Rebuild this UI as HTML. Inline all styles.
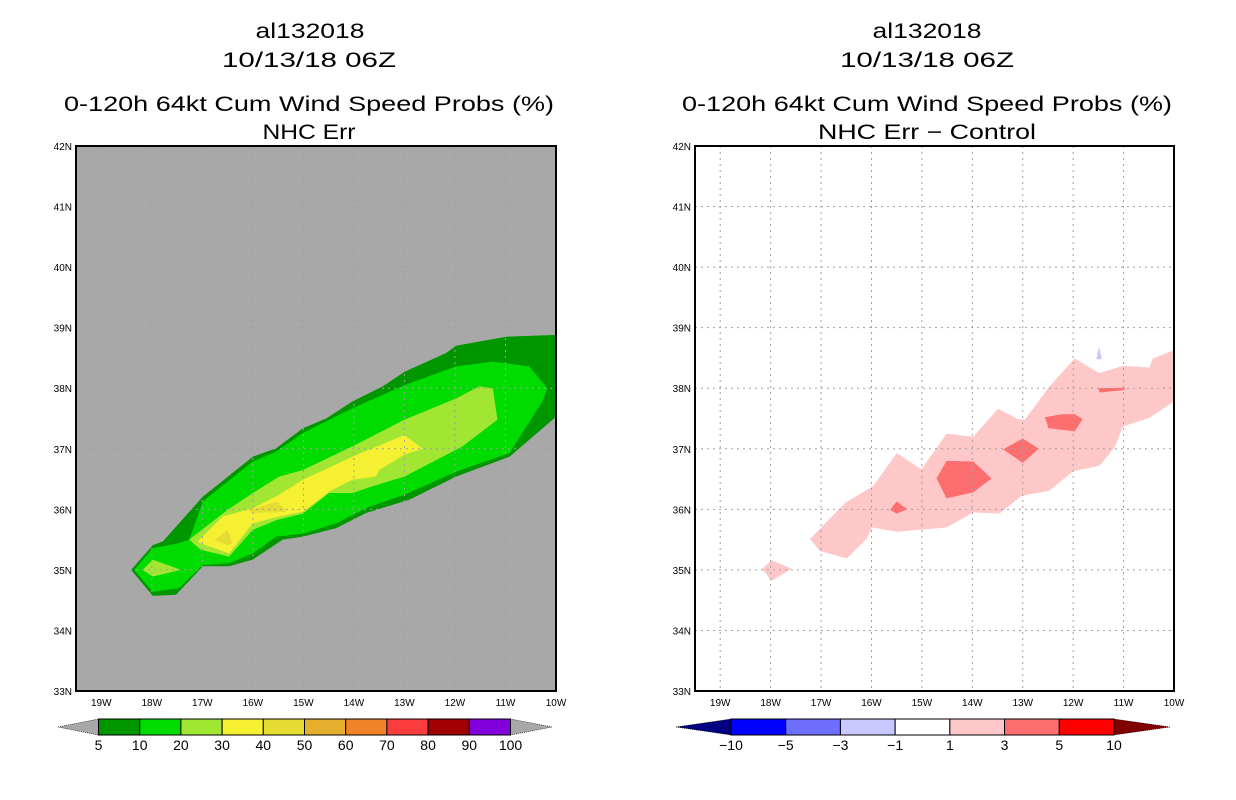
<!DOCTYPE html>
<html><head><meta charset="utf-8"><style>
body{margin:0;background:#fff;width:1236px;height:800px;overflow:hidden}
svg{display:block}
text{font-family:"Liberation Sans",sans-serif}
</style></head><body>
<svg id="s" width="1236" height="800">
<g font-size="21" text-anchor="middle" fill="#000" lengthAdjust="spacingAndGlyphs">
<text x="310" y="38" textLength="109" lengthAdjust="spacingAndGlyphs">al132018</text><text x="309" y="67" textLength="174" lengthAdjust="spacingAndGlyphs">10/13/18 06Z</text>
<text x="309" y="111" textLength="490" lengthAdjust="spacingAndGlyphs">0-120h 64kt Cum Wind Speed Probs (%)</text><text x="309" y="139" textLength="93" lengthAdjust="spacingAndGlyphs">NHC Err</text></g>
<g font-size="21" text-anchor="middle" fill="#000">
<text x="927" y="38" textLength="109" lengthAdjust="spacingAndGlyphs">al132018</text><text x="927" y="67" textLength="174" lengthAdjust="spacingAndGlyphs">10/13/18 06Z</text>
<text x="927" y="111" textLength="490" lengthAdjust="spacingAndGlyphs">0-120h 64kt Cum Wind Speed Probs (%)</text><text x="927" y="139" textLength="218" lengthAdjust="spacingAndGlyphs">NHC Err − Control</text></g>
<g id="L"></g>
<g id="R"></g>
<g id="CB"></g>
</svg>
<script>
const NS="http://www.w3.org/2000/svg";
const lonTicks=[-19,-18,-17,-16,-15,-14,-13,-12,-11,-10];
const latTicks=[33,34,35,36,37,38,39,40,41,42];
// left panel contours (lon,lat)
const probColors=["#009600","#00dc00","#a0e632","#f5f032","#e6dc32"];
const probDark=[[-18.41,35.0],[-17.98,35.41],[-17.78,35.47],[-16.99,36.21],[-16.0,36.87],[-15.54,37.01],[-15.01,37.34],[-14.55,37.5],[-14.03,37.78],[-13.43,38.03],[-13.0,38.27],[-12.18,38.58],[-11.98,38.7],[-10.99,38.85],[-10,38.88],[-10,37.53],[-10.92,36.87],[-11.98,36.54],[-12.9,36.16],[-13.76,35.94],[-14.35,35.69],[-15.01,35.55],[-15.41,35.5],[-16.0,35.17],[-16.47,35.06],[-16.99,35.06],[-17.52,34.59],[-17.98,34.57]];
const probGreen=[[-18.35,35.0],[-17.98,35.36],[-17.52,35.43],[-17.26,35.5],[-16.99,36.13],[-16.0,36.79],[-15.54,36.95],[-15.01,37.26],[-14.03,37.67],[-13.0,38.05],[-11.98,38.36],[-11.25,38.44],[-10.53,38.36],[-10.17,38.0],[-10.27,37.78],[-10.92,36.93],[-11.98,36.62],[-13.0,36.24],[-13.76,36.02],[-14.35,35.77],[-15.01,35.6],[-15.54,35.55],[-16.0,35.27],[-16.47,35.11],[-16.99,35.08],[-17.46,34.70],[-17.98,34.64]];
const probLight=[[-17.26,35.5],[-16.5,35.99],[-16.0,36.27],[-15.48,36.54],[-15.01,36.65],[-14.03,37.04],[-13.0,37.48],[-11.98,37.83],[-11.52,38.03],[-11.25,38.0],[-11.16,37.48],[-11.85,37.04],[-13.0,36.54],[-13.56,36.40],[-14.03,36.27],[-14.49,36.27],[-15.01,35.93],[-15.54,35.82],[-16.0,35.66],[-16.47,35.22],[-17.03,35.33]];
const probLight2=[[-18.18,35.0],[-17.98,35.17],[-17.42,35.0],[-17.98,34.89]];
const probYellow=[[-17.09,35.47],[-16.6,35.88],[-16.0,36.02],[-15.48,36.24],[-15.01,36.49],[-14.03,36.87],[-13.0,37.23],[-12.64,37.0],[-13.0,36.90],[-13.5,36.65],[-13.56,36.54],[-14.03,36.49],[-14.49,36.29],[-15.01,35.96],[-15.54,35.87],[-16.0,35.77],[-16.47,35.27],[-17.03,35.44]];
const probY40a=[[-16.76,35.49],[-16.5,35.66],[-16.4,35.44],[-16.5,35.41]];
const probY40b=[[-16.07,35.99],[-15.51,36.13],[-15.34,35.96],[-16.0,35.94]];
// right panel difference contours
const diffPink=[[-17.22,35.51],[-16.52,36.11],[-15.96,36.39],[-15.5,36.93],[-15.01,36.66],[-14.51,37.25],[-13.98,37.2],[-13.49,37.66],[-13.09,37.49],[-12.96,37.48],[-12.47,38.03],[-11.97,38.49],[-11.48,38.25],[-11.01,38.37],[-10.49,38.34],[-10.42,38.49],[-10.0,38.63],[-10.0,37.78],[-10.49,37.51],[-11.01,37.37],[-11.18,37.02],[-11.48,36.72],[-12.0,36.63],[-12.47,36.31],[-13.03,36.22],[-13.46,35.93],[-13.98,35.95],[-14.51,35.7],[-15.5,35.63],[-15.99,35.7],[-16.1,35.51],[-16.49,35.19],[-17.02,35.31]];
const diffPink2=[[-18.17,35.02],[-17.98,35.16],[-17.58,35.02],[-17.98,34.82]];
const diffRedA=[[-15.63,35.99],[-15.5,36.13],[-15.29,36.0],[-15.5,35.93]];
const diffRedB=[[-14.71,36.51],[-14.51,36.8],[-13.98,36.79],[-13.62,36.51],[-13.98,36.28],[-14.51,36.18]];
const diffRedC=[[-13.39,36.99],[-13.0,37.17],[-12.68,37.0],[-13.0,36.77]];
const diffRedD=[[-12.56,37.52],[-12.23,37.57],[-11.97,37.57],[-11.81,37.49],[-11.97,37.29],[-12.49,37.34]];
const diffRedE=[[-11.51,38.0],[-10.98,38.01],[-10.98,37.97],[-11.47,37.93]];
const diffBlue=[[-11.54,38.48],[-11.49,38.69],[-11.43,38.48]];
const probLabels=["5","10","20","30","40","50","60","70","80","90","100"];
const probBarColors=["#009600","#00dc00","#a0e632","#f5f032","#e6dc32","#e6af2d","#f08228","#fa3c3c","#a00000","#8200dc"];
const diffLabels=["-10","-5","-3","-1","1","3","5","10"];
const diffBarColors=["#0000ff","#6e6eff","#c8c8ff","#ffffff","#ffc8c8","#ff6e6e","#ff0000"];

function el(p,t,a){const e=document.createElementNS(NS,t);for(const k in a)e.setAttribute(k,a[k]);p.appendChild(e);return e;}
function panel(g,x0,x1,bg,polys,name){
  const y0=146,y1=691,lon0=-19.5,lon1=-10,lat0=33,lat1=42;
  const X=v=>x0+(v-lon0)/(lon1-lon0)*(x1-x0), Y=v=>y1-(v-lat0)/(lat1-lat0)*(y1-y0);
  const r=el(g,'rect',{x:x0,y:y0,width:x1-x0,height:y1-y0,fill:bg});
  
  
  const cp=el(g,'clipPath',{id:'c'+name});el(cp,'rect',{x:x0,y:y0,width:x1-x0,height:y1-y0});
  const cg=el(g,'g',{'clip-path':'url(#c'+name+')'});
  polys.forEach(([pts,col,nm])=>{
    const p=el(cg,'polygon',{points:pts.map(q=>X(q[0]).toFixed(1)+','+Y(q[1]).toFixed(1)).join(' '),fill:col});
    
    
  });
  lonTicks.forEach(v=>{
    if(v>lon0&&v<lon1){const l=el(g,'line',{x1:X(v),x2:X(v),y1:y0,y2:y1,stroke:'#a0a0a0','stroke-dasharray':'2,4'});
    
    }
    const t=el(g,'text',{x:X(v),y:706,'font-size':10,'text-anchor':'middle'});t.textContent=(-v)+'W';
    
    
  });
  latTicks.forEach(v=>{
    if(v>lat0&&v<lat1){const l=el(g,'line',{x1:x0,x2:x1,y1:Y(v),y2:Y(v),stroke:'#a0a0a0','stroke-dasharray':'2,4'});
    
    }
    const t=el(g,'text',{x:x0-4,y:Y(v)+4,'font-size':10,'text-anchor':'end'});t.textContent=v+'N';
    
    
  });
  el(g,'rect',{x:x0,y:y0,width:x1-x0,height:y1-y0,fill:'none',stroke:'#000','stroke-width':2});
}
panel(document.getElementById('L'),76,556,'#a8a8a8',[
 [probDark,probColors[0],'contour-5'],[probGreen,probColors[1],'contour-10'],[probLight,probColors[2],'contour-20'],[probLight2,probColors[2],'contour-20b'],
 [probYellow,probColors[3],'contour-30'],[probY40a,probColors[4],'contour-40a'],[probY40b,probColors[4],'contour-40b']],'left');
panel(document.getElementById('R'),695,1174,'#ffffff',[
 [diffPink,'#ffc8c8','diff-1to3'],[diffPink2,'#ffc8c8','diff-1to3b'],[diffRedA,'#ff6e6e','diff-3to5a'],[diffRedB,'#ff6e6e','diff-3to5b'],
 [diffRedC,'#ff6e6e','diff-3to5c'],[diffRedD,'#ff6e6e','diff-3to5d'],[diffRedE,'#ff6e6e','diff-3to5e'],[diffBlue,'#c8c8ff','diff-neg']],'right');

function bar(g,x0,x1,tipL,tipR,cols,labels,lc,rc,name){
  const y0=719,y1=735,ym=727,n=cols.length,w=(x1-x0)/n;
  const a=el(g,'polygon',{points:`${tipL},${ym} ${x0},${y0} ${x0},${y1}`,fill:lc,stroke:'#000','stroke-width':0.6,'stroke-dasharray':'1,1'});
  
  const b=el(g,'polygon',{points:`${tipR},${ym} ${x1},${y0} ${x1},${y1}`,fill:rc,stroke:'#000','stroke-width':0.6,'stroke-dasharray':'1,1'});
  
  cols.forEach((c,i)=>{const r=el(g,'rect',{x:x0+i*w,y:y0,width:w,height:y1-y0,fill:c,stroke:'#000','stroke-width':1});
    });
  labels.forEach((s,i)=>{const t=el(g,'text',{x:x0+i*w,y:750,'font-size':14,'text-anchor':'middle'});t.textContent=s.replace('-','−');
    });
}
const cb=document.getElementById('CB');
bar(cb,98.5,510.5,58,552,probBarColors,probLabels,'#a8a8a8','#a8a8a8','prob-colorbar');
bar(cb,731,1114,676,1170,diffBarColors,diffLabels,'#000080','#800000','diff-colorbar');
</script>
</body></html>
